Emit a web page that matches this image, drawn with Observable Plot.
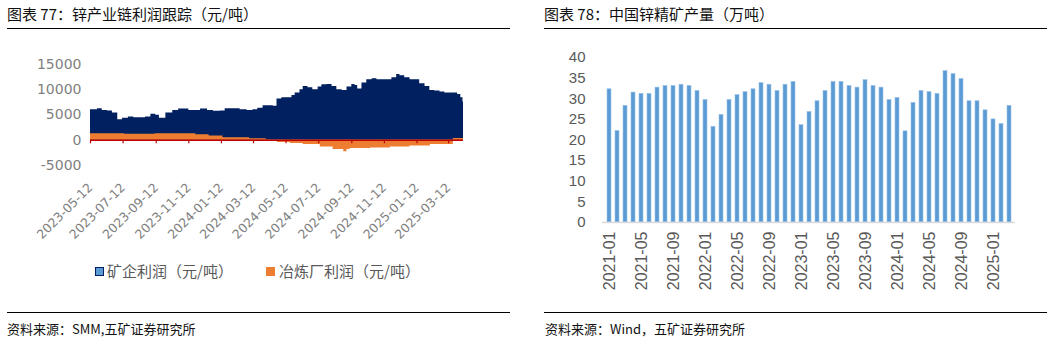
<!DOCTYPE html>
<html>
<head>
<meta charset="utf-8">
<script src="https://cdn.jsdelivr.net/npm/d3@7"></script>
<script src="https://cdn.jsdelivr.net/npm/@observablehq/plot@0.6"></script>
<style>
  html, body { margin: 0; padding: 0; background: #fff; }
  body { width: 1061px; height: 341px; position: relative; overflow: hidden; font-family: "Noto Sans CJK SC", "Noto Sans", sans-serif; }
  .abs { position: absolute; }
  .title { font-size: 15px; color: #111; white-space: nowrap; line-height: 1; }
  .rule { height: 0; border-top: 1.6px solid #000; }
  .src { font-size: 13px; color: #111; white-space: nowrap; line-height: 1; }
  .leg { font-size: 15px; color: #595959; white-space: nowrap; line-height: 1; }
</style>
</head>
<body>
<div class="abs title" style="left:7px; top:6px;">图表 77：锌产业链利润跟踪（元/吨）</div>
<div class="abs rule" style="left:7px; top:28px; width:503px;"></div>
<div class="abs title" style="left:544px; top:6px;">图表 78：中国锌精矿产量（万吨）</div>
<div class="abs rule" style="left:544px; top:28px; width:503px;"></div>

<div id="left" class="abs" style="left:0; top:40px;"></div>
<div id="right" class="abs" style="left:530px; top:40px;"></div>

<div class="abs" style="left:95px; top:267px; width:7px; height:7px; background:#5b9bd5; border:1.5px solid #002060;"></div>
<div class="abs leg" style="left:107px; top:263px;">矿企利润（元/吨）</div>
<div class="abs" style="left:266px; top:267px; width:9px; height:9px; background:#ed7d31;"></div>
<div class="abs leg" style="left:279px; top:263px;">冶炼厂利润（元/吨）</div>

<div class="abs rule" style="left:7px; top:312px; width:503px;"></div>
<div class="abs src" style="left:7px; top:322px;">资料来源：SMM,五矿证券研究所</div>
<div class="abs rule" style="left:544px; top:312px; width:503px;"></div>
<div class="abs src" style="left:545px; top:322px;">资料来源：Wind，五矿证券研究所</div>

<script>
// ---- Chart 77: zinc chain profit (yuan/ton) ----
const mineDates = [
  "2023-05-12","2023-05-25","2023-06-03","2023-06-13","2023-06-22","2023-07-02","2023-07-11","2023-07-22",
  "2023-08-01","2023-08-14","2023-08-23","2023-09-02","2023-09-11","2023-09-18","2023-09-30","2023-10-13",
  "2023-10-24","2023-11-02","2023-11-12","2023-11-21","2023-12-04","2023-12-17","2023-12-28","2024-01-10",
  "2024-01-19","2024-02-03","2024-02-16","2024-02-29","2024-03-11","2024-03-20","2024-03-30","2024-04-08",
  "2024-04-18","2024-04-25","2024-05-04","2024-05-14","2024-05-23","2024-05-29","2024-06-07","2024-06-13",
  "2024-06-22","2024-07-01","2024-07-11","2024-07-18","2024-07-28","2024-08-06","2024-08-15","2024-08-25",
  "2024-09-03","2024-09-12","2024-09-18","2024-09-23","2024-10-01","2024-10-10","2024-10-20","2024-10-29",
  "2024-11-07","2024-11-17","2024-11-26","2024-12-05","2024-12-11","2024-12-20","2024-12-30","2025-01-08",
  "2025-01-17","2025-01-27","2025-02-05","2025-02-14","2025-02-24","2025-03-05","2025-03-14","2025-03-24",
  "2025-03-29","2025-04-04","2025-04-08","2025-04-09"
];
const mineProfit = [
  6050,6250,5900,5800,5400,4080,4340,4600,
  4470,4470,4600,5130,4930,4340,5400,5900,
  6190,6190,5900,5900,6190,5900,5720,5790,
  6250,6250,6050,5900,6050,6320,6840,6840,
  6710,8160,8420,8420,8880,9340,10000,10660,
  10400,10000,10530,10990,11050,10660,10000,9870,
  10530,11050,10860,10130,11320,11980,12170,11980,
  11980,11980,12370,13030,12770,12370,11980,11980,
  11190,10660,9870,9740,9540,9340,9340,9340,
  9080,8420,7570,7570
];
const smelterDates = [
  "2023-05-12","2023-07-15","2023-09-10","2023-11-25","2023-12-20","2024-01-15","2024-03-05","2024-04-05",
  "2024-04-13","2024-04-26","2024-05-20","2024-06-13","2024-07-15","2024-08-08","2024-08-28","2024-09-03",
  "2024-09-09","2024-10-17","2024-11-23","2024-12-30","2025-02-06","2025-03-21","2025-04-09"
];
const smelterProfit = [
  1300,1200,1300,1100,850,500,300,100,
  -200,-460,-660,-860,-1320,-1850,-2300,-1850,
  -1650,-1520,-1320,-1120,-860,330,330
];
const leftXTicks = ["2023-05-12","2023-07-12","2023-09-12","2023-11-12","2024-01-12","2024-03-12",
  "2024-05-12","2024-07-12","2024-09-12","2024-11-12","2025-01-12","2025-03-12"];
const leftYTicks = [-5000, 0, 5000, 10000, 15000];

// ---- Chart 78: China zinc concentrate output (10k tons) ----
const months = [
  "2021-01","2021-02","2021-03","2021-04","2021-05","2021-06","2021-07","2021-08","2021-09","2021-10","2021-11","2021-12",
  "2022-01","2022-02","2022-03","2022-04","2022-05","2022-06","2022-07","2022-08","2022-09","2022-10","2022-11","2022-12",
  "2023-01","2023-02","2023-03","2023-04","2023-05","2023-06","2023-07","2023-08","2023-09","2023-10","2023-11","2023-12",
  "2024-01","2024-02","2024-03","2024-04","2024-05","2024-06","2024-07","2024-08","2024-09","2024-10","2024-11","2024-12",
  "2025-01","2025-02","2025-03"
];
const output = [
  32.3,22.2,28.3,31.5,31.2,31.2,32.7,33.1,33.1,33.4,33.1,31.9,
  29.7,23.2,26.1,29.7,30.9,31.6,32.3,33.8,33.4,31.9,33.4,34.1,
  23.6,26.8,29.4,31.9,34.1,34.1,33.1,32.7,34.5,33.1,32.7,29.7,
  30.2,22.1,29.0,31.9,31.6,31.2,36.7,36.0,34.8,29.4,29.4,27.2,
  25.0,23.9,28.3
];
const rightXTicks = ["2021-01","2021-05","2021-09","2022-01","2022-05","2022-09","2023-01","2023-05",
  "2023-09","2024-01","2024-05","2024-09","2025-01"];
const rightYTicks = [0,5,10,15,20,25,30,35,40];

const parse = d3.utcParse("%Y-%m-%d");
const mine = mineDates.map((d, i) => ({date: parse(d), v: mineProfit[i]}));
const smelter = smelterDates.map((d, i) => ({date: parse(d), v: smelterProfit[i]}));
const xTicks = leftXTicks.map(parse);

const left = Plot.plot({
  width: 530, height: 220,
  marginTop: 24, marginBottom: 95, marginLeft: 90, marginRight: 67,
  style: {fontFamily: "DejaVu Sans", fontSize: "14px", color: "#7f7f7f", background: "transparent"},
  x: {type: "utc", domain: [parse("2023-05-12"), parse("2025-04-09")]},
  y: {domain: [-5000, 15000]},
  marks: [
    Plot.areaY(mine, {x: "date", y: "v", curve: "step-after", fill: "#002060"}),
    Plot.areaY(smelter, {x: "date", y: "v", curve: "step-after", fill: "#ed7d31"}),
    Plot.ruleY([0], {stroke: "#c00000", strokeWidth: 1.5}),
    Plot.ruleX(xTicks, {y1: 0, y2: -700, stroke: "#c00000", strokeWidth: 1.2}),
    Plot.axisY({ticks: leftYTicks, tickSize: 0, tickPadding: 9, tickFormat: d => String(d), label: null}),
    Plot.axisX({ticks: xTicks, tickSize: 0, tickPadding: 20, tickRotate: -45, fontSize: 12.5, tickFormat: d3.utcFormat("%Y-%m-%d"), label: null})
  ]
});
document.getElementById("left").appendChild(left);

const prod = months.map((m, i) => ({m, v: output[i]}));
const right = Plot.plot({
  width: 531, height: 260,
  marginTop: 17, marginBottom: 78, marginLeft: 72, marginRight: 46,
  style: {fontFamily: "Liberation Sans", fontSize: "15px", color: "#595959", background: "transparent"},
  x: {domain: months, paddingInner: 0.52, paddingOuter: 0.3},
  y: {domain: [0, 40]},
  marks: [
    Plot.barY(prod, {x: "m", y: "v", fill: "#5b9bd5", stroke: "#9dc3e6", strokeWidth: 0.6}),
    Plot.ruleY([0], {stroke: "#d9d9d9", strokeWidth: 1.5}),
    Plot.axisY({ticks: rightYTicks, tickSize: 0, tickPadding: 17, label: null}),
    Plot.axisX({ticks: rightXTicks, tickSize: 0, tickPadding: 9, tickRotate: -90, fontSize: 16, label: null})
  ]
});
document.getElementById("right").appendChild(right);
</script>
</body>
</html>
